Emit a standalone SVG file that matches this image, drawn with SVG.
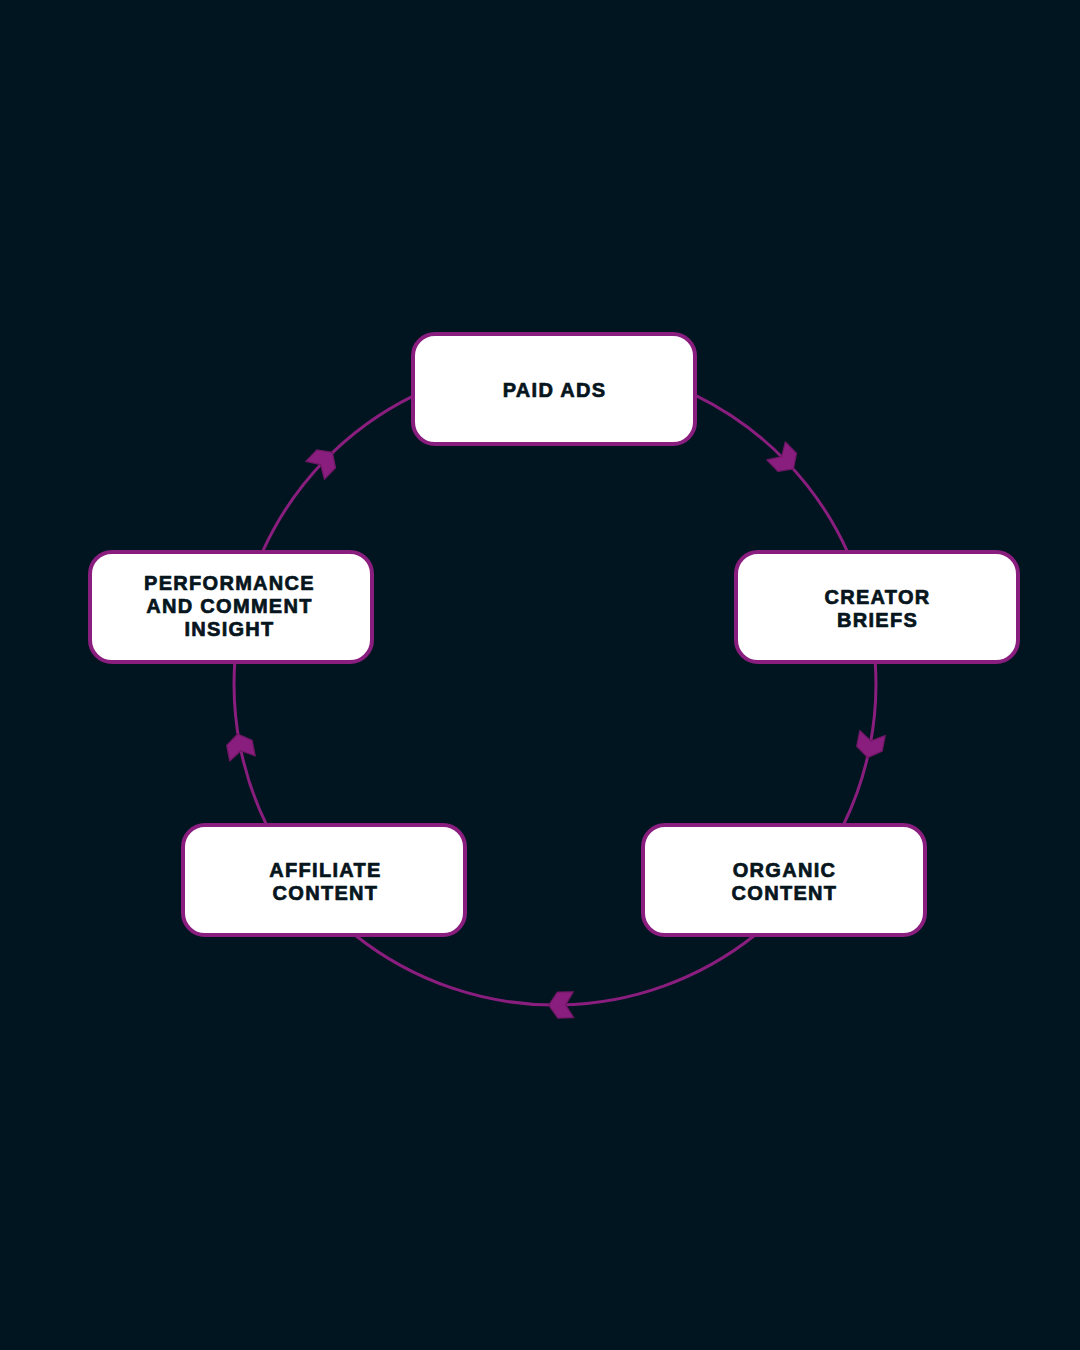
<svg xmlns="http://www.w3.org/2000/svg" width="1080" height="1350" viewBox="0 0 1080 1350">
<style>
.bg{fill:#011520}
.box{fill:#ffffff;stroke:#8a1e7e;stroke-width:4}
.lbl{font-family:"Liberation Sans",Arial,sans-serif;font-weight:700;font-size:20px;letter-spacing:1.3px;fill:#07151d;stroke:#07151d;stroke-width:0.7;stroke-linejoin:round;text-anchor:middle;dominant-baseline:central}
.arc{fill:none;stroke:#8a1e7e;stroke-width:3;marker-mid:url(#chev)}
</style>
<defs>
<marker id="chev" markerUnits="userSpaceOnUse" viewBox="-14 -15 28 30" refX="0" refY="0" markerWidth="28" markerHeight="30" orient="auto">
<polygon points="12,0 3,-13 -13,-13 -5,0 -13,13 3,13" fill="#8a1e7e" stroke="#6e1765" stroke-width="1.2" stroke-linejoin="round"/>
</marker>
</defs>
<rect class="bg" x="0" y="0" width="1080" height="1350"/>
<g id="connectors">
<path class="arc" d="M 695 395.1 A 321 321 0 0 1 785.1 460.2 A 321 321 0 0 1 847.6 552"/>
<path class="arc" d="M 875.2 662 A 321 321 0 0 1 870 745.8 A 321 321 0 0 1 843.4 825"/>
<path class="arc" d="M 755.1 935 A 321 321 0 0 1 560.6 1005 A 321 321 0 0 1 354.9 935"/>
<path class="arc" d="M 266.6 825 A 321 321 0 0 1 240 745.8 A 321 321 0 0 1 234.8 662"/>
<path class="arc" d="M 262.4 552 A 321 321 0 0 1 324.1 461 A 321 321 0 0 1 413 396.1"/>
</g>
<g id="paid-ads">
<rect class="box" x="413" y="334" width="282" height="110" rx="22"/>
<text class="lbl" x="554.5" y="390">PAID ADS</text>
</g>
<g id="creator-briefs">
<rect class="box" x="736" y="552" width="282" height="110" rx="22"/>
<text class="lbl"><tspan x="877.5" y="596.5">CREATOR</tspan><tspan x="877.5" y="619.5">BRIEFS</tspan></text>
</g>
<g id="organic-content">
<rect class="box" x="643" y="825" width="282" height="110" rx="22"/>
<text class="lbl"><tspan x="784.5" y="869.5">ORGANIC</tspan><tspan x="784.5" y="892.5">CONTENT</tspan></text>
</g>
<g id="affiliate-content">
<rect class="box" x="183" y="825" width="282" height="110" rx="22"/>
<text class="lbl"><tspan x="325.5" y="869.5">AFFILIATE</tspan><tspan x="325.5" y="892.5">CONTENT</tspan></text>
</g>
<g id="performance-insight">
<rect class="box" x="90" y="552" width="282" height="110" rx="22"/>
<text class="lbl"><tspan x="229.5" y="583">PERFORMANCE</tspan><tspan x="229.5" y="606">AND COMMENT</tspan><tspan x="229.5" y="629">INSIGHT</tspan></text>
</g>
</svg>
